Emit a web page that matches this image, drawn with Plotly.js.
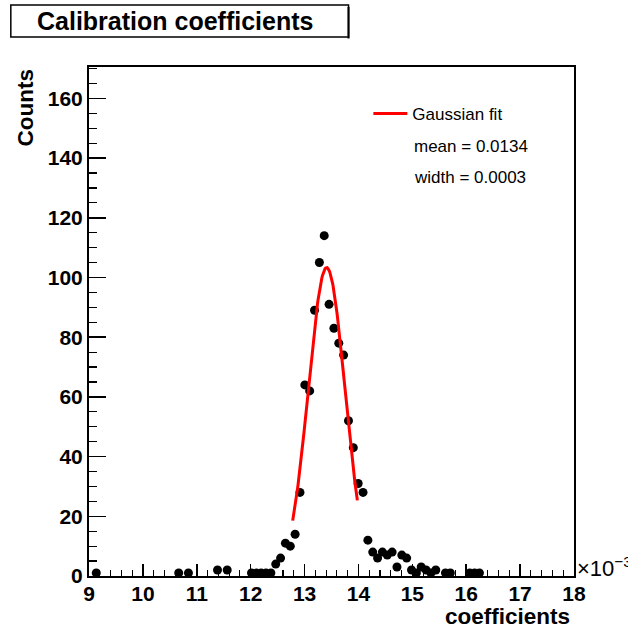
<!DOCTYPE html>
<html>
<head>
<meta charset="utf-8">
<script src="https://cdn.plot.ly/plotly-3.0.1.min.js"></script>
<style>html,body{margin:0;padding:0;background:#fff;}#chart{width:628px;height:630px;}</style>
</head>
<body>
<div id="chart"></div>
<script>
// Histogram bin centres (in units of 1e-3) and counts
const binCenters = [9.135, 10.665, 10.845, 11.385, 11.565,
  12.015, 12.105, 12.195, 12.285, 12.375, 12.465, 12.555, 12.645, 12.735, 12.825,
  12.915, 13.005, 13.095, 13.185, 13.275, 13.365, 13.455, 13.545, 13.635, 13.725,
  13.815, 13.905, 13.995, 14.085, 14.175, 14.265, 14.355, 14.445, 14.535, 14.625,
  14.715, 14.805, 14.895, 14.985, 15.075, 15.165, 15.255, 15.345, 15.435, 15.615,
  15.705, 16.065, 16.155, 16.245];
const counts = [1, 1, 1, 2, 2,
  1, 1, 1, 1, 1, 4, 6, 11, 10, 14,
  28, 64, 62, 89, 105, 114, 91, 83, 78, 74,
  52, 43, 31, 28, 12, 8, 6, 8, 7, 8,
  3, 7, 6, 2, 1, 3, 2, 1, 2, 1,
  1, 1, 1, 1];

// Gaussian fit parameters (x in units of 1e-3)
const fitAmplitude = 103.3;
const fitMean = 13.41;
const fitSigma = 0.34;
const fitRange = [12.78, 13.98];

const xTickVals = [9, 10, 11, 12, 13, 14, 15, 16, 17, 18];
const xTickText = ['9', '10', '11', '12', '13', '14', '15', '16', '17', '18'];
const yTickVals = [0, 20, 40, 60, 80, 100, 120, 140, 160];

const fitX = [], fitY = [];
const nFit = 120;
for (let k = 0; k <= nFit; k++) {
  const x = fitRange[0] + (fitRange[1] - fitRange[0]) * k / nFit;
  fitX.push(x);
  fitY.push(fitAmplitude * Math.exp(-0.5 * Math.pow((x - fitMean) / fitSigma, 2)));
}

const FONT = '"Liberation Sans", Arial, Helvetica, sans-serif';

const traces = [
  {
    x: binCenters, y: counts, type: 'scatter', mode: 'markers',
    marker: {color: '#000', size: 9, line: {width: 0}},
    showlegend: false, name: 'data'
  },
  {
    x: fitX, y: fitY, type: 'scatter', mode: 'lines',
    line: {color: '#ff0000', width: 3},
    name: 'Gaussian fit', showlegend: true
  }
];

const layout = {
  width: 628, height: 630,
  margin: {l: 89, r: 54, t: 67, b: 54},
  paper_bgcolor: '#fff', plot_bgcolor: '#fff',
  font: {family: FONT, color: '#000'},
  showlegend: true,
  legend: {
    x: 0.576, y: 0.943, xanchor: 'left', yanchor: 'top',
    bgcolor: 'rgba(0,0,0,0)', borderwidth: 0, itemwidth: 34,
    font: {family: FONT, size: 17, color: '#000'}
  },
  xaxis: {
    range: [9, 18], tickmode: 'array', tickvals: xTickVals, ticktext: xTickText,
    ticks: 'inside', ticklen: 12, tickwidth: 1.5, tickcolor: '#000',
    minor: {dtick: 0.2, tick0: 9, ticks: 'inside', ticklen: 6, tickwidth: 1.2, tickcolor: '#000'},
    showline: true, linecolor: '#000', linewidth: 2, mirror: true,
    showgrid: false, zeroline: false, ticklabelstandoff: -2,
    tickfont: {family: FONT, size: 21, weight: 700, color: '#000'}
  },
  yaxis: {
    range: [0, 170.5], tickmode: 'array', tickvals: yTickVals,
    ticks: 'inside', ticklen: 17, tickwidth: 1.5, tickcolor: '#000',
    minor: {dtick: 5, tick0: 0, ticks: 'inside', ticklen: 8, tickwidth: 1.2, tickcolor: '#000'},
    showline: true, linecolor: '#000', linewidth: 2, mirror: true,
    showgrid: false, zeroline: false,
    tickfont: {family: FONT, size: 21, weight: 700, color: '#000'}
  },
  shapes: [
    {type: 'rect', xref: 'paper', yref: 'paper', x0: -0.1612, x1: 0.5351, y0: 1.0589, y1: 1.1218,
     line: {color: '#000', width: 1.5}, fillcolor: '#fff', layer: 'above'},
    {type: 'line', xref: 'paper', yref: 'paper', x0: 0.5351, x1: 0.5351, y0: 1.0560, y1: 1.1180,
     line: {color: '#000', width: 2}}
  ],
  annotations: [
    {text: 'Calibration coefficients', xref: 'paper', yref: 'paper', x: 0.1767, y: 1.0894,
     xanchor: 'center', yanchor: 'middle', showarrow: false,
     font: {family: FONT, size: 25, weight: 700, color: '#000'}},
    {text: 'coefficients', xref: 'paper', yref: 'paper', x: 1, y: 0, xanchor: 'right', yanchor: 'top',
     yshift: -26, xshift: -2, showarrow: false,
     font: {family: FONT, size: 22.5, weight: 700, color: '#000'}},
    {text: 'Counts', xref: 'paper', yref: 'paper', x: 0, y: 1, xanchor: 'right', yanchor: 'top',
     xshift: -50, textangle: -90, showarrow: false,
     font: {family: FONT, size: 22.5, weight: 700, color: '#000'}},
    {text: '×10<sup>−3</sup>', xref: 'paper', yref: 'paper', x: 1, y: 0, xanchor: 'left', yanchor: 'middle',
     xshift: 1, yshift: 9, showarrow: false,
     font: {family: FONT, size: 22, color: '#000'}},
    {text: 'mean = 0.0134', xref: 'paper', yref: 'paper', x: 0.667, y: 0.843, xanchor: 'left', yanchor: 'middle',
     showarrow: false, font: {family: FONT, size: 17, color: '#000'}},
    {text: 'width = 0.0003', xref: 'paper', yref: 'paper', x: 0.667, y: 0.782, xanchor: 'left', yanchor: 'middle',
     showarrow: false, font: {family: FONT, size: 17, color: '#000'}}
  ]
};

Plotly.newPlot('chart', traces, layout, {staticPlot: true, displayModeBar: false});
</script>
</body>
</html>
